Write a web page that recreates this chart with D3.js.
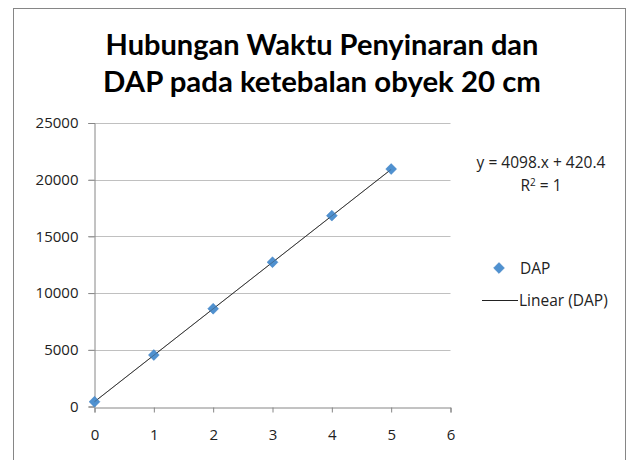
<!DOCTYPE html>
<html>
<head>
<meta charset="utf-8">
<script src="https://cdn.jsdelivr.net/npm/d3@7.9.0/dist/d3.min.js"></script>
<style>
  body { margin: 0; background: #fff; }
  svg { display: block; font-family: Lato, "Open Sans", sans-serif; }
</style>
</head>
<body>
<svg id="chart" width="628" height="460"></svg>
<script>
// data
const waktu = [0, 1, 2, 3, 4, 5];
const dap = [420, 4540, 8620, 12720, 16830, 20940];
const xTicks = [0, 1, 2, 3, 4, 5, 6];
const yTicks = [0, 5000, 10000, 15000, 20000, 25000];
const titleLines = ['Hubungan Waktu Penyinaran dan', 'DAP pada ketebalan obyek 20 cm'];
const eqText = 'y = 4098.x + 420.4';

const svg = d3.select('#chart');
const labelFont = '"Open Sans", sans-serif';

// outer chart frame
svg.append('rect')
  .attr('x', 13.5).attr('y', 8.5)
  .attr('width', 612).attr('height', 470)
  .attr('fill', 'none').attr('stroke', '#868686').attr('stroke-width', 1);

let x = d3.scaleLinear().domain([0, 6]).range([94.5, 450.5]);
let y = d3.scaleLinear().domain([0, 25000]).range([406.5, 123]);

// gridlines
svg.append('g').selectAll('line')
  .data(yTicks.slice(1))
  .join('line')
  .attr('x1', 88).attr('x2', 450.5)
  .attr('y1', d => Math.round(y(d)) + 0.5).attr('y2', d => Math.round(y(d)) + 0.5)
  .attr('stroke', '#c0c0c0').attr('stroke-width', 1);

// y axis
const yAxis = svg.append('g')
  .attr('transform', 'translate(94.5,0)')
  .call(d3.axisLeft(y).tickValues(yTicks).tickSize(6).tickPadding(10).tickFormat(d3.format('d')));
yAxis.select('.domain').attr('stroke', '#868686');
yAxis.selectAll('.tick line').attr('stroke', '#868686');
yAxis.selectAll('text').attr('font-size', 15).attr('fill', '#222')
  .attr('font-family', labelFont);

// x axis
const xAxis = svg.append('g')
  .attr('transform', `translate(0,${Math.round(y(0)) + 0.5})`)
  .call(d3.axisBottom(x).tickValues(xTicks).tickSize(5).tickPadding(17).tickFormat(d3.format('d')));
xAxis.select('.domain').attr('stroke', '#868686');
xAxis.selectAll('.tick line').attr('stroke', '#868686');
xAxis.selectAll('text').attr('font-size', 15).attr('fill', '#222')
  .attr('font-family', labelFont);

// linear trendline
const lr = d3.extent(waktu);
const trend = v => 4098 * v + 420.4;
svg.append('line')
  .attr('x1', x(lr[0])).attr('y1', y(trend(lr[0])))
  .attr('x2', x(lr[1])).attr('y2', y(trend(lr[1])))
  .attr('stroke', '#222').attr('stroke-width', 0.9);

// markers
const diamond = d3.symbol().type(d3.symbolDiamond2).size(75);
svg.append('g').selectAll('path')
  .data(waktu)
  .join('path')
  .attr('d', diamond)
  .attr('transform', (d, i) => `translate(${x(d)},${y(dap[i])})`)
  .attr('fill', '#4f91d0').attr('stroke', '#3f7fc0').attr('stroke-width', 0.5);

// trendline shows through the markers in the ref
svg.append('line')
  .attr('x1', x(lr[0])).attr('y1', y(trend(lr[0])))
  .attr('x2', x(lr[1])).attr('y2', y(trend(lr[1])))
  .attr('stroke', '#333').attr('stroke-width', 0.6).attr('opacity', 0.6);

// title
titleLines.forEach((t, i) => {
  const el = svg.append('text')
    .attr('x', 322).attr('y', 55 + i * 37)
    .attr('text-anchor', 'middle')
    .attr('font-size', 27).attr('font-weight', 'bold').attr('fill', '#000')
    .attr('font-family', 'Lato, "Open Sans", sans-serif')
    .text(t);
  const w = el.node().getComputedTextLength();
  const target = i === 0 ? 433 : 438;
  el.attr('font-size', 27 * target / w);
});

// equation
svg.append('text').attr('x', 541).attr('y', 168).attr('text-anchor', 'middle')
  .attr('font-size', 15.5).attr('fill', '#222')
  .attr('font-family', labelFont).text(eqText);
const r2 = svg.append('text').attr('x', 541).attr('y', 191).attr('text-anchor', 'middle')
  .attr('font-size', 15.5).attr('fill', '#222')
  .attr('font-family', labelFont);
r2.append('tspan').text('R');
r2.append('tspan').attr('dy', -5).attr('font-size', 10).text('2');
r2.append('tspan').attr('dy', 5).text(' = 1');

// legend
svg.append('path').attr('d', diamond)
  .attr('transform', 'translate(499,268)')
  .attr('fill', '#4f91d0').attr('stroke', '#3f7fc0').attr('stroke-width', 0.5);
svg.append('text').attr('x', 520).attr('y', 274)
  .attr('font-size', 15.5).attr('fill', '#222')
  .attr('font-family', labelFont).text('DAP');
svg.append('line').attr('x1', 482).attr('x2', 518).attr('y1', 300.5).attr('y2', 300.5)
  .attr('stroke', '#222').attr('stroke-width', 1);
svg.append('text').attr('x', 519).attr('y', 306)
  .attr('font-size', 15.5).attr('fill', '#222')
  .attr('font-family', labelFont).text('Linear (DAP)');
</script>
</body>
</html>
